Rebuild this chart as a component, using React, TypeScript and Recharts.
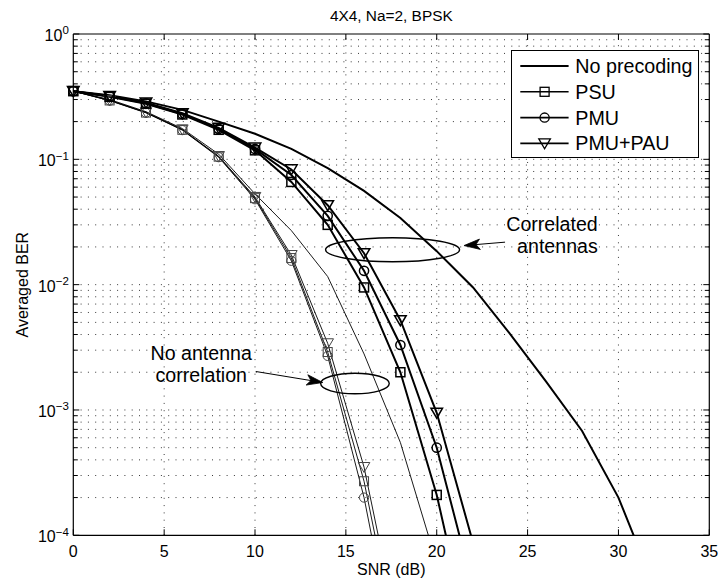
import React from 'react';
import {
  ComposedChart,
  Line,
  Scatter,
  XAxis,
  YAxis,
  ReferenceLine,
  ReferenceDot,
  Legend,
  Label,
} from 'recharts';

const FONT = '"Liberation Sans", Arial, Helvetica, sans-serif';

// ---- data (BER vs SNR in dB) ----
const snr = [0, 2, 4, 6, 8, 10, 12, 14, 16, 18, 20, 22, 24, 26, 28, 30, 32];

// correlated antennas (thick curves)
const noPrecCorr = [0.35, 0.325, 0.29, 0.248, 0.2, 0.16, 0.121, 0.085, 0.056, 0.034, 0.0185, 0.0095, 0.0041, 0.0017, 0.00068, 0.0002, 0.000038];
const psuCorr = [0.35, 0.315, 0.278, 0.228, 0.172, 0.118, 0.066, 0.03, 0.0095, 0.002, 0.00021, 0.000011];
const pmuCorr = [0.35, 0.318, 0.28, 0.23, 0.175, 0.121, 0.075, 0.0354, 0.0129, 0.0033, 0.0005, 0.000038];
const paCorr = [0.35, 0.32, 0.283, 0.233, 0.178, 0.124, 0.083, 0.043, 0.0178, 0.0052, 0.00095, 0.000087];

// no antenna correlation (thin curves)
const noPrecUnc = [0.35, 0.3, 0.24, 0.176, 0.11, 0.053, 0.027, 0.0116, 0.0028, 0.00055, 0.00006];
const psuUnc = [0.35, 0.295, 0.236, 0.172, 0.105, 0.049, 0.0163, 0.0029, 0.00027, 0.00001];
const pmuUnc = [0.35, 0.294, 0.235, 0.171, 0.104, 0.048, 0.0155, 0.0027, 0.0002, 0.0000068];
const paUnc = [0.35, 0.296, 0.237, 0.173, 0.106, 0.05, 0.0172, 0.0034, 0.00035, 0.000014];

const xTicks = [0, 5, 10, 15, 20, 25, 30, 35];
const xGrid = [5, 10, 15, 20, 25, 30];
const decades = [-4, -3, -2, -1];
const mantissas = [1, 2, 3, 4, 5, 6, 7, 8, 9];
const yTicks = decades.flatMap((e) => mantissas.map((m) => m * Math.pow(10, e))).concat([1]);
const yGrid = yTicks.slice(1, -1);

const legendNames = ['No precoding', 'PSU', 'PMU', 'PMU+PAU'];
const title = '4X4, Na=2, BPSK';

const table = snr.map((s, i) => ({
  snr: s,
  noPrecCorr: noPrecCorr[i],
  psuCorr: psuCorr[i],
  pmuCorr: pmuCorr[i],
  paCorr: paCorr[i],
  noPrecUnc: noPrecUnc[i],
  psuUnc: psuUnc[i],
  pmuUnc: pmuUnc[i],
  paUnc: paUnc[i],
}));

const markerData = (arr: number[]) =>
  arr.map((v, i) => ({ snr: snr[i], ber: v })).filter((p) => p.ber >= 1e-4);

// ---- marker shapes ----
const makeSquare = (stroke: string, sw: number) => (p: any) => (
  <rect x={p.cx - 4.5} y={p.cy - 4.5} width={9} height={9} fill="none" stroke={stroke} strokeWidth={sw} />
);
const makeCircle = (stroke: string, sw: number) => (p: any) => (
  <circle cx={p.cx} cy={p.cy} r={4.6} fill="none" stroke={stroke} strokeWidth={sw} />
);
const makeTri = (stroke: string, sw: number) => (p: any) => (
  <polygon
    points={`${p.cx - 5.8},${p.cy - 4.6} ${p.cx + 5.8},${p.cy - 4.6} ${p.cx},${p.cy + 5.4}`}
    fill="none"
    stroke={stroke}
    strokeWidth={sw}
    strokeLinejoin="miter"
  />
);

// ---- ticks ----
const isMajor = (v: number) => Math.abs(Math.log10(v) - Math.round(Math.log10(v))) < 1e-9;

const XTickBottom = (p: any) => (
  <g>
    <line x1={p.x} x2={p.x} y1={p.y} y2={p.y - 6} stroke="#000" strokeWidth={1} />
    <text x={p.x} y={p.y + 21.4} textAnchor="middle" fontSize={16} fontFamily={FONT} fill="#000">
      {p.payload.value}
    </text>
  </g>
);
const XTickTop = (p: any) => (
  <line x1={p.x} x2={p.x} y1={p.y} y2={p.y + 6} stroke="#000" strokeWidth={1} />
);
const YTickLeft = (p: any) => {
  const v = p.payload.value;
  const major = isMajor(v);
  const e = Math.round(Math.log10(v));
  return (
    <g>
      <line x1={p.x} x2={p.x + (major ? 6 : 4.5)} y1={p.y} y2={p.y} stroke="#000" strokeWidth={1} />
      {major ? (
        <text x={p.x - 4.5} y={p.y + 7} textAnchor="end" fontSize={16} fontFamily={FONT} fill="#000">
          <tspan>10</tspan>
          <tspan dy={-6.8} fontSize={11.5}>{e === 0 ? '0' : '\u2212' + Math.abs(e)}</tspan>
        </text>
      ) : null}
    </g>
  );
};
const YTickRight = (p: any) => {
  const major = isMajor(p.payload.value);
  return <line x1={p.x} x2={p.x - (major ? 6 : 4.5)} y1={p.y} y2={p.y} stroke="#000" strokeWidth={1} />;
};

// ---- annotations ----
const arrowShape = (p: any) => {
  const { x1, y1, x2, y2 } = p;
  const a = Math.atan2(y2 - y1, x2 - x1);
  const c = Math.cos(a);
  const s = Math.sin(a);
  const L = 16;
  const W = 5.2;
  const N = 4;
  const bx = x2 - L * c;
  const by = y2 - L * s;
  const nx = x2 - (L - N) * c;
  const ny = y2 - (L - N) * s;
  return (
    <g>
      <line x1={x1} y1={y1} x2={nx} y2={ny} stroke="#000" strokeWidth={1} />
      <polygon
        points={`${x2},${y2} ${bx - W * s},${by + W * c} ${nx},${ny} ${bx + W * s},${by - W * c}`}
        fill="#000"
        stroke="#000"
        strokeWidth={0.8}
      />
    </g>
  );
};
const ellipseShape = (rx: number, ry: number) => (p: any) => (
  <ellipse cx={p.cx} cy={p.cy} rx={rx} ry={ry} fill="none" stroke="#000" strokeWidth={1.4} />
);
const textShape = (lines: string[], anchor: 'start' | 'middle' | 'end') => (p: any) => (
  <text x={p.cx} y={p.cy} textAnchor={anchor} fontSize={19.6} fontFamily={FONT} fill="#000">
    {lines.map((t, i) => (
      <tspan key={i} x={p.cx} dy={i === 0 ? 0 : 22.5}>
        {t}
      </tspan>
    ))}
  </text>
);

// ---- legend ----
const LegendBox = () => {
  const w = 188.6;
  const h = 107.7;
  const rows = [15.9, 41.8, 67.6, 93.4];
  const markers = [null, 'square', 'circle', 'tri'];
  return (
    <div
      style={{
        width: w,
        height: h,
        boxSizing: 'border-box',
        border: '1.3px solid #000',
        background: '#fff',
        position: 'relative',
      }}
    >
      <svg width={w} height={h} style={{ position: 'absolute', left: -1.3, top: -1.3 }}>
        {legendNames.map((name, i) => {
          const y = rows[i];
          const m = markers[i];
          const cx = 34.6;
          return (
            <g key={name}>
              <line x1={10.3} x2={58.6} y1={y} y2={y} stroke="#000" strokeWidth={i === 0 ? 2 : 1.6} />
              {m === 'square' ? makeSquare('#000', 1.3)({ cx, cy: y }) : null}
              {m === 'circle' ? makeCircle('#000', 1.3)({ cx, cy: y }) : null}
              {m === 'tri' ? makeTri('#000', 1.3)({ cx, cy: y }) : null}
              <text x={65.3} y={y + 7} fontSize={19.7} fontFamily={FONT} fill="#000">
                {name}
              </text>
            </g>
          );
        })}
      </svg>
    </div>
  );
};

const gridStyle = { stroke: '#3a3a3a', strokeWidth: 1, strokeDasharray: '1 6.3' };

export default function App() {
  return (
    <div style={{ position: 'absolute', left: 0, top: 0, background: '#fff' }}>
      <ComposedChart
        width={720}
        height={583}
        data={table}
        margin={{ top: 33, right: 9.7, bottom: 0, left: 0 }}
      >
        <XAxis
          dataKey="snr"
          type="number"
          domain={[0, 35]}
          ticks={xTicks}
          interval={0}
          height={47.7}
          tickSize={0}
          tickMargin={0}
          tickLine={false}
          tick={<XTickBottom />}
          axisLine={{ stroke: '#000', strokeWidth: 1.2 }}
        >
          <Label
            content={(p: any) => (
              <text
                x={p.viewBox.x + p.viewBox.width / 2}
                y={575}
                textAnchor="middle"
                fontSize={16}
                fontFamily={FONT}
                fill="#000"
              >
                SNR (dB)
              </text>
            )}
          />
        </XAxis>
        <XAxis
          xAxisId="top"
          orientation="top"
          dataKey="snr"
          type="number"
          domain={[0, 35]}
          ticks={xGrid}
          interval={0}
          height={1}
          tickSize={0}
          tickMargin={0}
          tickLine={false}
          tick={<XTickTop />}
          axisLine={{ stroke: '#000', strokeWidth: 1.2 }}
        >
          <Label
            content={(p: any) => (
              <text
                x={p.viewBox.x + p.viewBox.width / 2}
                y={20.7}
                textAnchor="middle"
                fontSize={15.4}
                fontFamily={FONT}
                fill="#000"
              >
                {title}
              </text>
            )}
          />
        </XAxis>
        <YAxis
          type="number"
          scale="log"
          domain={[1e-4, 1]}
          allowDataOverflow
          ticks={yTicks}
          interval={0}
          width={73.3}
          tickSize={0}
          tickMargin={0}
          tickLine={false}
          tick={<YTickLeft />}
          axisLine={{ stroke: '#000', strokeWidth: 1.2 }}
        >
          <Label
            content={(p: any) => {
              const cy = p.viewBox.y + p.viewBox.height / 2;
              return (
                <text
                  x={27.7}
                  y={cy}
                  transform={`rotate(-90, 27.7, ${cy})`}
                  textAnchor="middle"
                  fontSize={16}
                  fontFamily={FONT}
                  fill="#000"
                >
                  Averaged BER
                </text>
              );
            }}
          />
        </YAxis>
        <YAxis
          yAxisId="right"
          orientation="right"
          type="number"
          scale="log"
          domain={[1e-4, 1]}
          ticks={yTicks}
          interval={0}
          width={1}
          tickSize={0}
          tickMargin={0}
          tickLine={false}
          tick={<YTickRight />}
          axisLine={{ stroke: '#000', strokeWidth: 1.2 }}
        />

        {yGrid.map((v) => (
          <ReferenceLine key={'h' + v} y={v} {...gridStyle} />
        ))}
        {xGrid.map((v) => (
          <ReferenceLine key={'v' + v} x={v} {...gridStyle} />
        ))}

        <Line dataKey="noPrecUnc" type="linear" stroke="#000" strokeWidth={0.9} dot={false} activeDot={false} isAnimationActive={false} />
        <Line dataKey="psuUnc" type="linear" stroke="#000" strokeWidth={0.9} dot={false} activeDot={false} isAnimationActive={false} />
        <Line dataKey="pmuUnc" type="linear" stroke="#000" strokeWidth={0.9} dot={false} activeDot={false} isAnimationActive={false} />
        <Line dataKey="paUnc" type="linear" stroke="#000" strokeWidth={0.9} dot={false} activeDot={false} isAnimationActive={false} />

        <Line dataKey="noPrecCorr" type="linear" stroke="#000" strokeWidth={2} dot={false} activeDot={false} isAnimationActive={false} />
        <Line dataKey="psuCorr" type="linear" stroke="#000" strokeWidth={2} dot={false} activeDot={false} isAnimationActive={false} />
        <Line dataKey="pmuCorr" type="linear" stroke="#000" strokeWidth={2} dot={false} activeDot={false} isAnimationActive={false} />
        <Line dataKey="paCorr" type="linear" stroke="#000" strokeWidth={2} dot={false} activeDot={false} isAnimationActive={false} />

        <Scatter yAxisId="right" data={markerData(psuUnc)} dataKey="ber" shape={makeSquare('#444', 1)} isAnimationActive={false} />
        <Scatter yAxisId="right" data={markerData(pmuUnc)} dataKey="ber" shape={makeCircle('#444', 1)} isAnimationActive={false} />
        <Scatter yAxisId="right" data={markerData(paUnc)} dataKey="ber" shape={makeTri('#444', 1)} isAnimationActive={false} />
        <Scatter yAxisId="right" data={markerData(psuCorr)} dataKey="ber" shape={makeSquare('#000', 1.5)} isAnimationActive={false} />
        <Scatter yAxisId="right" data={markerData(pmuCorr)} dataKey="ber" shape={makeCircle('#000', 1.5)} isAnimationActive={false} />
        <Scatter yAxisId="right" data={markerData(paCorr)} dataKey="ber" shape={makeTri('#000', 1.5)} isAnimationActive={false} />

        <ReferenceDot x={17.57} y={0.019} shape={ellipseShape(67, 12)} />
        <ReferenceDot x={15.5} y={0.001626} shape={ellipseShape(34.3, 10.3)} />
        <ReferenceLine segment={[{ x: 23.76, y: 0.02183 }, { x: 21.5, y: 0.0205 }]} shape={arrowShape} />
        <ReferenceLine segment={[{ x: 10.04, y: 0.002028 }, { x: 13.73, y: 0.001656 }]} shape={arrowShape} />
        <ReferenceDot x={28.86} y={0.02685} shape={textShape(['Correlated', 'antennas'], 'end')} />
        <ReferenceDot x={7.04} y={0.002512} shape={textShape(['No antenna', 'correlation'], 'middle')} />

        <Legend
          content={<LegendBox />}
          layout="vertical"
          align="center"
          verticalAlign="middle"
          wrapperStyle={{ left: 510.7, top: 50, width: 188.6, height: 107.7 }}
        />
      </ComposedChart>
    </div>
  );
}
